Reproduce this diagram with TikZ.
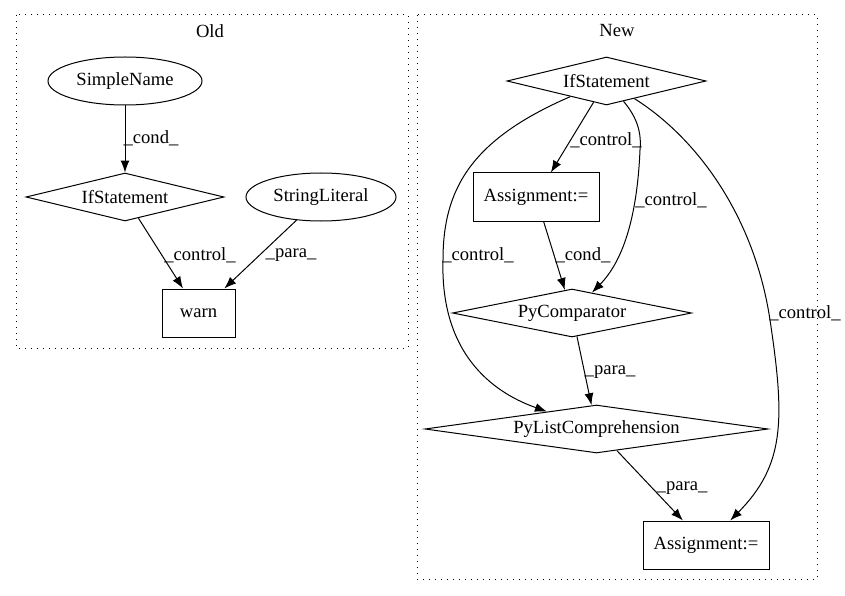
\documentclass[tikz,border=0pt]{standalone}
\usepackage{fontspec}
\setmainfont{Liberation Serif}
\usetikzlibrary{shapes.geometric,arrows.meta}

\begin{document}
\begin{tikzpicture}[x=1pt, y=-1pt, line width=1pt, >={Latex[length=12pt,width=9pt]},
	font=\fontsize{18.6}{21}\selectfont,
	box/.style={draw, rectangle, inner sep=0pt, minimum height=48pt},
	oval/.style={draw, ellipse, inner sep=0pt, minimum height=48pt},
	rhomb/.style={draw, diamond, aspect=7, inner sep=0pt, minimum height=48pt},
	lbl/.style={inner sep=0pt},
	cluster/.style={dash pattern=on 1.2pt off 4.8pt}]
	\useasboundingbox (0, 0) rectangle (845, 596);
	
	\draw[cluster] (16, 15) rectangle (408, 348);
	\draw[cluster] (417, 15) rectangle (817, 579);
	\node[lbl] (oldtitle) at (210, 31) {Old};
	\node[lbl] (newtitle) at (617, 31) {New};
	
	% Old
	\node[oval, minimum width=154pt] (simplename) at (125, 81) {SimpleName};
	\node[rhomb, minimum width=198pt] (ifold) at (125, 197) {IfStatement};
	\node[oval, minimum width=150pt] (stringlit) at (321, 197) {StringLiteral};
	\node[box, minimum width=73pt] (warn) at (198.5, 313) {warn};
	
	\draw[->] (simplename) -- (ifold);
	\draw[->] (ifold) -- (warn);
	\draw[->] (stringlit) -- (warn);
	\node[lbl] (condold) at (151, 138) {\_cond\_};
	\node[lbl] (ctrlold) at (200, 255) {\_control\_};
	\node[lbl] (paraold) at (291, 255) {\_para\_};
	
	% New
	\node[rhomb, minimum width=199pt] (ifnew) at (606.5, 81) {IfStatement};
	\node[box, minimum width=126pt] (asgt) at (536, 197) {Assignment:=};
	\node[rhomb, minimum width=239pt] (pycomp) at (572, 313) {PyComparator};
	\node[rhomb, minimum width=343pt] (pylist) at (596.5, 429) {PyListComprehension};
	\node[box, minimum width=126pt] (asgb) at (706, 545) {Assignment:=};
	
	\draw[->] (ifnew) .. controls (470, 140) and (443, 190) .. (443, 260)
		.. controls (440, 360) and (500, 395) .. (pylist);
	\draw[->] (ifnew) -- (asgt);
	\draw[->] (ifnew) .. controls (635, 115) and (642, 130) .. (640, 150)
		.. controls (637, 220) and (622, 262) .. (pycomp);
	\draw[->] (ifnew) .. controls (700, 140) and (755, 220) .. (770, 320)
		.. controls (785, 420) and (785, 465) .. (asgb);
	\draw[->] (asgt) -- (pycomp);
	\draw[->] (pycomp) -- (pylist);
	\draw[->] (pylist) -- (asgb);
	
	\node[lbl] (ctrlleft) at (478, 255) {\_control\_};
	\node[lbl] (ctrlasg) at (606, 140) {\_control\_};
	\node[lbl] (ctrlcomp) at (671, 200) {\_control\_};
	\node[lbl] (condnew) at (583, 255) {\_cond\_};
	\node[lbl] (ctrlright) at (805, 313) {\_control\_};
	\node[lbl] (paracomp) at (610, 372) {\_para\_};
	\node[lbl] (paralist) at (682, 488) {\_para\_};
\end{tikzpicture}
\end{document}
